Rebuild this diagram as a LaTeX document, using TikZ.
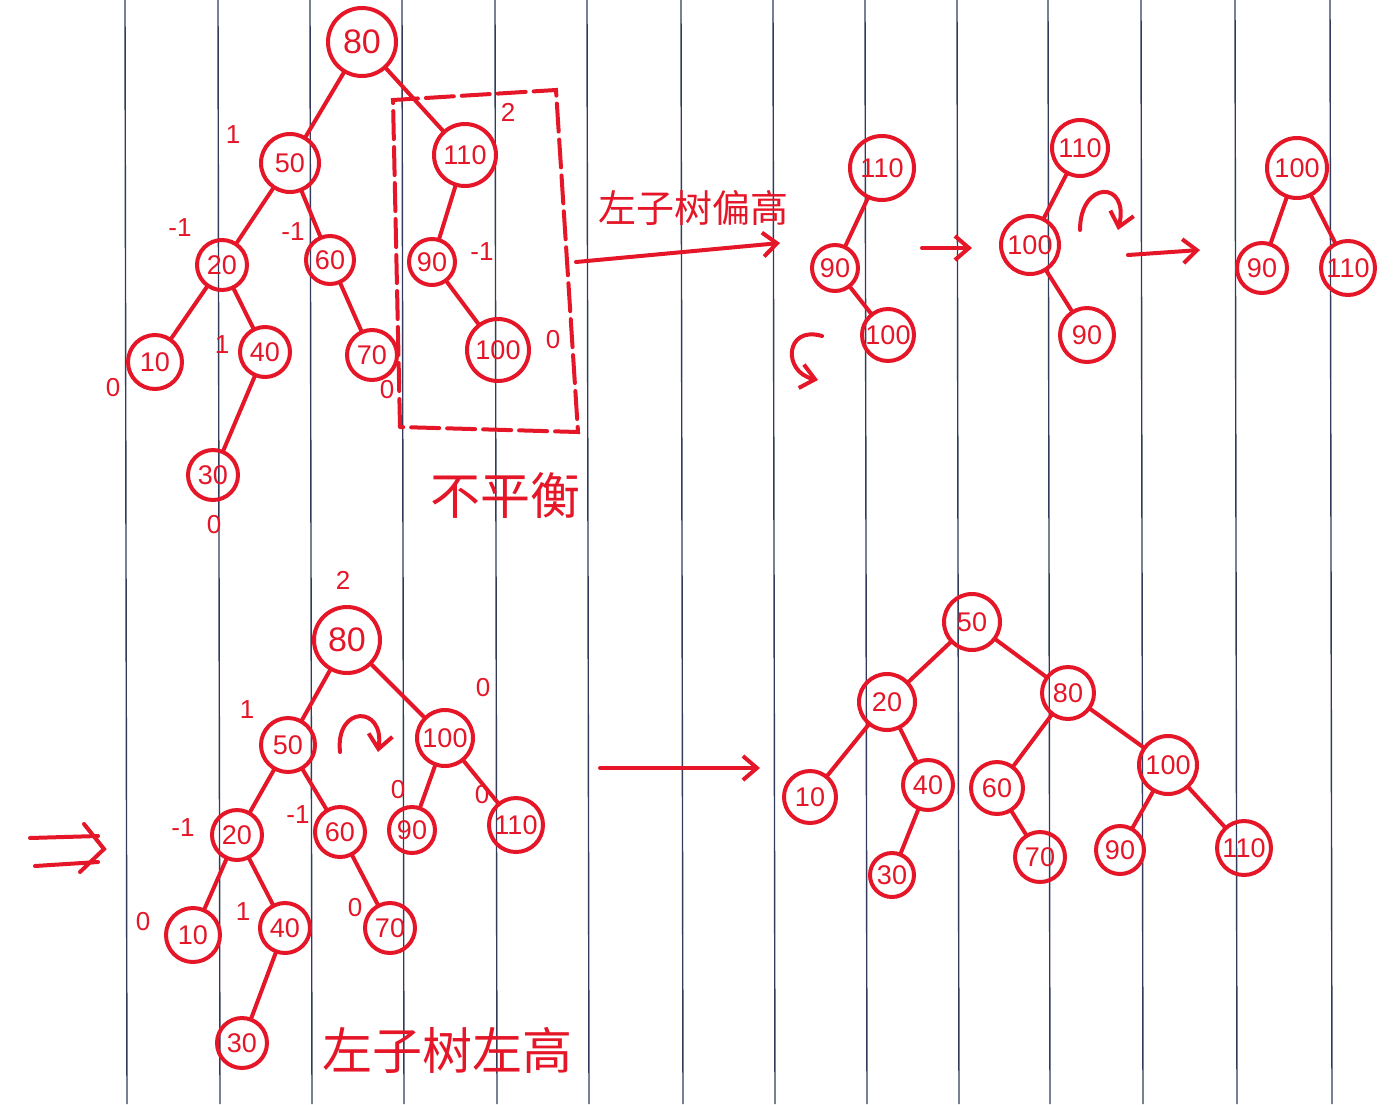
\documentclass[tikz,border=0pt]{standalone}
\usepackage{fontspec}
\setmainfont{Liberation Sans}
\newfontfamily\cjk{Noto Sans CJK SC}
\usetikzlibrary{arrows.meta}
\definecolor{inkred}{RGB}{228,22,40}
\definecolor{ruleblue}{RGB}{50,60,90}
\begin{document}
\begin{tikzpicture}[x=0.5pt,y=-0.5pt,
  tn/.style={circle,draw=inkred,line width=2pt,text=inkred,inner sep=0pt,
    minimum size=#1*0.5pt,font=\fontsize{13.5}{13.5}\selectfont},
  tn/.default=52,
  big/.style={font=\fontsize{17}{17}\selectfont},
  ed/.style={draw=inkred,line width=2pt,line cap=round},
  arr/.style={ed,-{Straight Barb[length=7pt,width=12pt,line width=2pt]}},
  bf/.style={text=inkred,inner sep=1pt,font=\fontsize{13}{13}\selectfont},
  note/.style={text=inkred,inner sep=0pt,font=\cjk\fontsize{#1}{#1}\selectfont},
  paperline/.style={draw=ruleblue,line width=0.7pt}]

\fill[white] (0,0) rectangle (1398,1104);
\useasboundingbox (0,0) rectangle (1398,1104);

% ruled paper
\foreach \x in {125,218,310,402,495,587,681,773,865,957,1048,1141,1235,1330}
  \draw[paperline] (\x,0) -- (\x+2,1104);

% ---------- top-left tree ----------
\node[tn=68,big] (a80) at (362,42) {80};
\node[tn=58] (a50) at (290,163) {50};
\node[tn=62] (a110) at (465,155) {110};
\node[tn=50] (a20) at (222,265) {20};
\node[tn=48] (a60) at (330,260) {60};
\node[tn=46] (a90) at (432,262) {90};
\node[tn=54] (a10) at (155,362) {10};
\node[tn=50] (a40) at (265,352) {40};
\node[tn=50] (a70) at (372,355) {70};
\node[tn=62] (a100) at (498,350) {100};
\node[tn=50] (a30) at (213,475) {30};
\foreach \p/\c in {a80/a50,a80/a110,a50/a20,a50/a60,a20/a10,a20/a40,a40/a30,a60/a70,a110/a90,a90/a100}
  \draw[ed] (\p) -- (\c);
\node[bf] (b1) at (233,135) {1};
\node[bf] (b2) at (180,228) {-1};
\node[bf] (b3) at (293,232) {-1};
\node[bf] (b4) at (113,388) {0};
\node[bf] (b5) at (222,345) {1};
\node[bf] (b6) at (387,390) {0};
\node[bf] (b7) at (508,112) {2};
\node[bf] (b8) at (482,252) {-1};
\node[bf] (b9) at (553,340) {0};
\node[bf] (b10) at (214,525) {0};

% dashed box around unbalanced subtree
\draw[ed,dash pattern=on 14pt off 4pt] (400,427) -- (393,100) -- (556,90) -- (578,432) -- cycle;
\node[note=25] (unbal) at (505,495) {不平衡};

% arrow to right
\coordinate (boxout) at (576,262);
\coordinate (arrend) at (780,243);
\draw[arr] (boxout) -- (arrend);
\node[note=19] (lbl1) at (693,208) {左子树偏高};

% ---------- top-right sequence ----------
\node[tn=64] (c110) at (882,168) {110};
\node[tn=46] (c90) at (835,268) {90};
\node[tn=52] (c100) at (888,335) {100};
\draw[ed] (c110) -- (c90);
\draw[ed] (c90) -- (c100);
\draw[arr] (822,336) .. controls (785,325) and (782,372) .. (818,380);

\coordinate (s1) at (922,248);
\coordinate (e1) at (972,248);
\draw[arr] (s1) -- (e1);

\node[tn=56] (d110) at (1080,148) {110};
\node[tn=58] (d100) at (1030,245) {100};
\node[tn=54] (d90) at (1087,335) {90};
\draw[ed] (d110) -- (d100);
\draw[ed] (d100) -- (d90);
\draw[arr] (1080,230) .. controls (1080,180) and (1130,180) .. (1118,230);

\coordinate (s2) at (1128,255);
\coordinate (e2) at (1200,250);
\draw[arr] (s2) -- (e2);

\node[tn=60] (f100) at (1297,168) {100};
\node[tn=50] (f90) at (1262,268) {90};
\node[tn=54] (f110) at (1348,268) {110};
\draw[ed] (f100) -- (f90);
\draw[ed] (f100) -- (f110);

% ---------- bottom-left tree ----------
\draw[ed] (30,838) -- (98,836);
\draw[ed] (35,866) -- (98,862);
\draw[ed] (84,824) -- (104,849) -- (80,872);

\node[tn=66,big] (g80) at (347,640) {80};
\node[tn=54] (g50) at (288,745) {50};
\node[tn=56] (g100) at (445,738) {100};
\node[tn=50] (g20) at (237,835) {20};
\node[tn=50] (g60) at (340,832) {60};
\node[tn=46] (g90) at (412,830) {90};
\node[tn=54] (g110) at (516,825) {110};
\node[tn=54] (g10) at (193,935) {10};
\node[tn=50] (g40) at (285,928) {40};
\node[tn=50] (g70) at (390,928) {70};
\node[tn=50] (g30) at (242,1043) {30};
\foreach \p/\c in {g80/g50,g80/g100,g50/g20,g50/g60,g20/g10,g20/g40,g40/g30,g60/g70,g100/g90,g100/g110}
  \draw[ed] (\p) -- (\c);
\node[bf] (h1) at (343,580) {2};
\node[bf] (h2) at (247,710) {1};
\node[bf] (h3) at (483,688) {0};
\node[bf] (h4) at (183,828) {-1};
\node[bf] (h5) at (298,815) {-1};
\node[bf] (h6) at (398,790) {0};
\node[bf] (h7) at (482,795) {0};
\node[bf] (h8) at (143,922) {0};
\node[bf] (h9) at (243,912) {1};
\node[bf] (h10) at (355,908) {0};
\draw[arr] (340,752) .. controls (335,705) and (385,705) .. (378,752);
\node[note=25] (lbl2) at (447,1050) {左子树左高};

\coordinate (s3) at (600,768);
\coordinate (e3) at (760,768);
\draw[arr] (s3) -- (e3);

% ---------- final tree ----------
\node[tn=56] (k50) at (972,622) {50};
\node[tn=56] (k20) at (887,702) {20};
\node[tn=52] (k80) at (1068,693) {80};
\node[tn=52] (k10) at (810,797) {10};
\node[tn=50] (k40) at (928,785) {40};
\node[tn=52] (k60) at (997,788) {60};
\node[tn=58] (k100) at (1168,765) {100};
\node[tn=44] (k30) at (892,875) {30};
\node[tn=50] (k70) at (1040,857) {70};
\node[tn=48] (k90) at (1120,850) {90};
\node[tn=54] (k110) at (1244,848) {110};
\foreach \p/\c in {k50/k20,k50/k80,k20/k10,k20/k40,k40/k30,k80/k60,k80/k100,k60/k70,k100/k90,k100/k110}
  \draw[ed] (\p) -- (\c);
\end{tikzpicture}
\end{document}
